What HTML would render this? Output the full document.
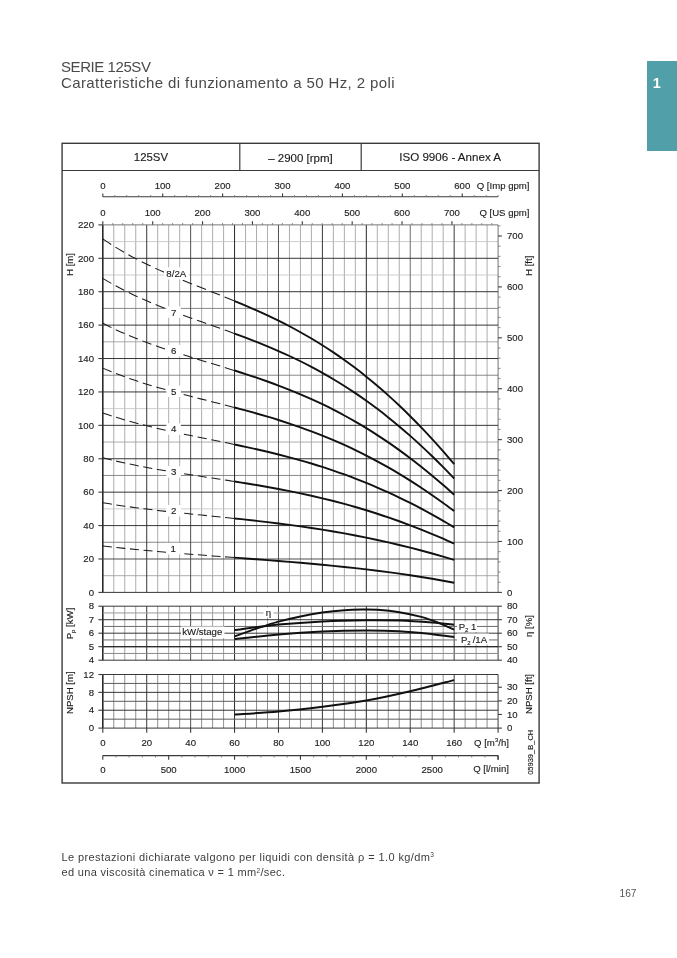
<!DOCTYPE html>
<html lang="it">
<head>
<meta charset="utf-8">
<title>SERIE 125SV</title>
<style>
html,body{margin:0;padding:0;background:#fff;}
body{width:677px;height:958px;position:relative;overflow:hidden;font-family:"Liberation Sans",sans-serif;}
.h1,.h2{position:absolute;left:61px;font-size:15px;line-height:16px;color:#4a4a4a;white-space:nowrap;}
.h1{letter-spacing:-0.43px;}
.h2{letter-spacing:0.39px;}
.h1{top:59px;}
.h2{top:75px;}
.tab{position:absolute;left:646.8px;top:60.9px;width:31px;height:89.7px;background:#519fa9;}
.tab span{position:absolute;left:6px;top:15.3px;font-size:14.5px;font-weight:bold;color:#fff;line-height:15px;}
.note{position:absolute;left:61.5px;font-size:11px;line-height:12px;color:#3d3d3d;white-space:nowrap;}
.n1{letter-spacing:0.4px;}
.n2{letter-spacing:0.33px;}
.n1{top:850.5px;}
.n2{top:866.2px;}
.note sup{font-size:6.5px;vertical-align:baseline;position:relative;top:-3.5px;}
.pg{position:absolute;left:619.5px;top:888.2px;font-size:10.2px;line-height:12px;color:#555;}
svg{position:absolute;left:0;top:0;font-family:"Liberation Sans",sans-serif;}
svg text{stroke:#1c1c1c;stroke-width:0.14px;}
</style>
</head>
<body>
<div class="h1">SERIE 125SV</div>
<div class="h2">Caratteristiche di funzionamento a 50 Hz, 2 poli</div>
<div class="tab"><span>1</span></div>
<svg width="677" height="958" viewBox="0 0 677 958">
<rect x="62.1" y="143.3" width="477" height="639.7" fill="#fff" stroke="#3a3a3a" stroke-width="1.4"/>
<line x1="62.1" y1="170.5" x2="539.1" y2="170.5" stroke="#3a3a3a" stroke-width="1.2"/>
<line x1="239.8" y1="143.3" x2="239.8" y2="170.3" stroke="#3a3a3a" stroke-width="1.2"/>
<line x1="361.2" y1="143.3" x2="361.2" y2="170.3" stroke="#3a3a3a" stroke-width="1.2"/>
<text x="150.95" y="160.9" font-size="11.4" text-anchor="middle" fill="#1c1c1c">125SV</text>
<text x="300.5" y="161.9" font-size="11.5" text-anchor="middle" fill="#1c1c1c">&#8211; 2900 [rpm]</text>
<text x="450.15" y="161" font-size="11.6" text-anchor="middle" fill="#1c1c1c">ISO 9906 - Annex A</text>
<line x1="102.8" y1="196.8" x2="498.08" y2="196.8" stroke="#3a3a3a" stroke-width="1.1"/>
<line x1="102.8" y1="196.8" x2="102.8" y2="193.4" stroke="#3a3a3a" stroke-width="1.1"/>
<text x="102.8" y="189.2" font-size="9.6" text-anchor="middle" fill="#1c1c1c">0</text>
<line x1="114.78" y1="196.8" x2="114.78" y2="195" stroke="#777" stroke-width="0.9"/>
<line x1="126.76" y1="196.8" x2="126.76" y2="195" stroke="#777" stroke-width="0.9"/>
<line x1="138.74" y1="196.8" x2="138.74" y2="195" stroke="#777" stroke-width="0.9"/>
<line x1="150.73" y1="196.8" x2="150.73" y2="195" stroke="#777" stroke-width="0.9"/>
<line x1="162.71" y1="196.8" x2="162.71" y2="193.4" stroke="#3a3a3a" stroke-width="1.1"/>
<text x="162.71" y="189.2" font-size="9.6" text-anchor="middle" fill="#1c1c1c">100</text>
<line x1="174.69" y1="196.8" x2="174.69" y2="195" stroke="#777" stroke-width="0.9"/>
<line x1="186.67" y1="196.8" x2="186.67" y2="195" stroke="#777" stroke-width="0.9"/>
<line x1="198.65" y1="196.8" x2="198.65" y2="195" stroke="#777" stroke-width="0.9"/>
<line x1="210.63" y1="196.8" x2="210.63" y2="195" stroke="#777" stroke-width="0.9"/>
<line x1="222.61" y1="196.8" x2="222.61" y2="193.4" stroke="#3a3a3a" stroke-width="1.1"/>
<text x="222.61" y="189.2" font-size="9.6" text-anchor="middle" fill="#1c1c1c">200</text>
<line x1="234.6" y1="196.8" x2="234.6" y2="195" stroke="#777" stroke-width="0.9"/>
<line x1="246.58" y1="196.8" x2="246.58" y2="195" stroke="#777" stroke-width="0.9"/>
<line x1="258.56" y1="196.8" x2="258.56" y2="195" stroke="#777" stroke-width="0.9"/>
<line x1="270.54" y1="196.8" x2="270.54" y2="195" stroke="#777" stroke-width="0.9"/>
<line x1="282.52" y1="196.8" x2="282.52" y2="193.4" stroke="#3a3a3a" stroke-width="1.1"/>
<text x="282.52" y="189.2" font-size="9.6" text-anchor="middle" fill="#1c1c1c">300</text>
<line x1="294.5" y1="196.8" x2="294.5" y2="195" stroke="#777" stroke-width="0.9"/>
<line x1="306.48" y1="196.8" x2="306.48" y2="195" stroke="#777" stroke-width="0.9"/>
<line x1="318.46" y1="196.8" x2="318.46" y2="195" stroke="#777" stroke-width="0.9"/>
<line x1="330.45" y1="196.8" x2="330.45" y2="195" stroke="#777" stroke-width="0.9"/>
<line x1="342.43" y1="196.8" x2="342.43" y2="193.4" stroke="#3a3a3a" stroke-width="1.1"/>
<text x="342.43" y="189.2" font-size="9.6" text-anchor="middle" fill="#1c1c1c">400</text>
<line x1="354.41" y1="196.8" x2="354.41" y2="195" stroke="#777" stroke-width="0.9"/>
<line x1="366.39" y1="196.8" x2="366.39" y2="195" stroke="#777" stroke-width="0.9"/>
<line x1="378.37" y1="196.8" x2="378.37" y2="195" stroke="#777" stroke-width="0.9"/>
<line x1="390.35" y1="196.8" x2="390.35" y2="195" stroke="#777" stroke-width="0.9"/>
<line x1="402.33" y1="196.8" x2="402.33" y2="193.4" stroke="#3a3a3a" stroke-width="1.1"/>
<text x="402.33" y="189.2" font-size="9.6" text-anchor="middle" fill="#1c1c1c">500</text>
<line x1="414.32" y1="196.8" x2="414.32" y2="195" stroke="#777" stroke-width="0.9"/>
<line x1="426.3" y1="196.8" x2="426.3" y2="195" stroke="#777" stroke-width="0.9"/>
<line x1="438.28" y1="196.8" x2="438.28" y2="195" stroke="#777" stroke-width="0.9"/>
<line x1="450.26" y1="196.8" x2="450.26" y2="195" stroke="#777" stroke-width="0.9"/>
<line x1="462.24" y1="196.8" x2="462.24" y2="193.4" stroke="#3a3a3a" stroke-width="1.1"/>
<text x="462.24" y="189.2" font-size="9.6" text-anchor="middle" fill="#1c1c1c">600</text>
<line x1="474.22" y1="196.8" x2="474.22" y2="195" stroke="#777" stroke-width="0.9"/>
<line x1="486.2" y1="196.8" x2="486.2" y2="195" stroke="#777" stroke-width="0.9"/>
<line x1="498.19" y1="196.8" x2="498.19" y2="195" stroke="#777" stroke-width="0.9"/>
<text x="529.5" y="188.6" font-size="9.6" text-anchor="end" fill="#1c1c1c">Q [Imp gpm]</text>
<line x1="102.8" y1="224.89" x2="102.8" y2="221.29" stroke="#3a3a3a" stroke-width="1.1"/>
<text x="102.8" y="216.4" font-size="9.6" text-anchor="middle" fill="#1c1c1c">0</text>
<line x1="112.78" y1="224.89" x2="112.78" y2="223.09" stroke="#777" stroke-width="0.9"/>
<line x1="122.75" y1="224.89" x2="122.75" y2="223.09" stroke="#777" stroke-width="0.9"/>
<line x1="132.73" y1="224.89" x2="132.73" y2="223.09" stroke="#777" stroke-width="0.9"/>
<line x1="142.7" y1="224.89" x2="142.7" y2="223.09" stroke="#777" stroke-width="0.9"/>
<line x1="152.68" y1="224.89" x2="152.68" y2="221.29" stroke="#3a3a3a" stroke-width="1.1"/>
<text x="152.68" y="216.4" font-size="9.6" text-anchor="middle" fill="#1c1c1c">100</text>
<line x1="162.65" y1="224.89" x2="162.65" y2="223.09" stroke="#777" stroke-width="0.9"/>
<line x1="172.63" y1="224.89" x2="172.63" y2="223.09" stroke="#777" stroke-width="0.9"/>
<line x1="182.6" y1="224.89" x2="182.6" y2="223.09" stroke="#777" stroke-width="0.9"/>
<line x1="192.58" y1="224.89" x2="192.58" y2="223.09" stroke="#777" stroke-width="0.9"/>
<line x1="202.55" y1="224.89" x2="202.55" y2="221.29" stroke="#3a3a3a" stroke-width="1.1"/>
<text x="202.55" y="216.4" font-size="9.6" text-anchor="middle" fill="#1c1c1c">200</text>
<line x1="212.53" y1="224.89" x2="212.53" y2="223.09" stroke="#777" stroke-width="0.9"/>
<line x1="222.5" y1="224.89" x2="222.5" y2="223.09" stroke="#777" stroke-width="0.9"/>
<line x1="232.48" y1="224.89" x2="232.48" y2="223.09" stroke="#777" stroke-width="0.9"/>
<line x1="242.45" y1="224.89" x2="242.45" y2="223.09" stroke="#777" stroke-width="0.9"/>
<line x1="252.43" y1="224.89" x2="252.43" y2="221.29" stroke="#3a3a3a" stroke-width="1.1"/>
<text x="252.43" y="216.4" font-size="9.6" text-anchor="middle" fill="#1c1c1c">300</text>
<line x1="262.4" y1="224.89" x2="262.4" y2="223.09" stroke="#777" stroke-width="0.9"/>
<line x1="272.38" y1="224.89" x2="272.38" y2="223.09" stroke="#777" stroke-width="0.9"/>
<line x1="282.35" y1="224.89" x2="282.35" y2="223.09" stroke="#777" stroke-width="0.9"/>
<line x1="292.33" y1="224.89" x2="292.33" y2="223.09" stroke="#777" stroke-width="0.9"/>
<line x1="302.3" y1="224.89" x2="302.3" y2="221.29" stroke="#3a3a3a" stroke-width="1.1"/>
<text x="302.3" y="216.4" font-size="9.6" text-anchor="middle" fill="#1c1c1c">400</text>
<line x1="312.28" y1="224.89" x2="312.28" y2="223.09" stroke="#777" stroke-width="0.9"/>
<line x1="322.25" y1="224.89" x2="322.25" y2="223.09" stroke="#777" stroke-width="0.9"/>
<line x1="332.23" y1="224.89" x2="332.23" y2="223.09" stroke="#777" stroke-width="0.9"/>
<line x1="342.2" y1="224.89" x2="342.2" y2="223.09" stroke="#777" stroke-width="0.9"/>
<line x1="352.18" y1="224.89" x2="352.18" y2="221.29" stroke="#3a3a3a" stroke-width="1.1"/>
<text x="352.18" y="216.4" font-size="9.6" text-anchor="middle" fill="#1c1c1c">500</text>
<line x1="362.15" y1="224.89" x2="362.15" y2="223.09" stroke="#777" stroke-width="0.9"/>
<line x1="372.13" y1="224.89" x2="372.13" y2="223.09" stroke="#777" stroke-width="0.9"/>
<line x1="382.1" y1="224.89" x2="382.1" y2="223.09" stroke="#777" stroke-width="0.9"/>
<line x1="392.08" y1="224.89" x2="392.08" y2="223.09" stroke="#777" stroke-width="0.9"/>
<line x1="402.05" y1="224.89" x2="402.05" y2="221.29" stroke="#3a3a3a" stroke-width="1.1"/>
<text x="402.05" y="216.4" font-size="9.6" text-anchor="middle" fill="#1c1c1c">600</text>
<line x1="412.03" y1="224.89" x2="412.03" y2="223.09" stroke="#777" stroke-width="0.9"/>
<line x1="422" y1="224.89" x2="422" y2="223.09" stroke="#777" stroke-width="0.9"/>
<line x1="431.98" y1="224.89" x2="431.98" y2="223.09" stroke="#777" stroke-width="0.9"/>
<line x1="441.95" y1="224.89" x2="441.95" y2="223.09" stroke="#777" stroke-width="0.9"/>
<line x1="451.93" y1="224.89" x2="451.93" y2="221.29" stroke="#3a3a3a" stroke-width="1.1"/>
<text x="451.93" y="216.4" font-size="9.6" text-anchor="middle" fill="#1c1c1c">700</text>
<line x1="461.9" y1="224.89" x2="461.9" y2="223.09" stroke="#777" stroke-width="0.9"/>
<line x1="471.88" y1="224.89" x2="471.88" y2="223.09" stroke="#777" stroke-width="0.9"/>
<line x1="481.85" y1="224.89" x2="481.85" y2="223.09" stroke="#777" stroke-width="0.9"/>
<line x1="491.83" y1="224.89" x2="491.83" y2="223.09" stroke="#777" stroke-width="0.9"/>
<text x="529.5" y="216" font-size="9.6" text-anchor="end" fill="#1c1c1c">Q [US gpm]</text>
<line x1="113.78" y1="224.89" x2="113.78" y2="592.4" stroke="#9e9e9e" stroke-width="0.85"/>
<line x1="124.76" y1="224.89" x2="124.76" y2="592.4" stroke="#9e9e9e" stroke-width="0.85"/>
<line x1="135.74" y1="224.89" x2="135.74" y2="592.4" stroke="#9e9e9e" stroke-width="0.85"/>
<line x1="157.7" y1="224.89" x2="157.7" y2="592.4" stroke="#9e9e9e" stroke-width="0.85"/>
<line x1="168.68" y1="224.89" x2="168.68" y2="592.4" stroke="#9e9e9e" stroke-width="0.85"/>
<line x1="179.66" y1="224.89" x2="179.66" y2="592.4" stroke="#9e9e9e" stroke-width="0.85"/>
<line x1="201.62" y1="224.89" x2="201.62" y2="592.4" stroke="#9e9e9e" stroke-width="0.85"/>
<line x1="212.6" y1="224.89" x2="212.6" y2="592.4" stroke="#9e9e9e" stroke-width="0.85"/>
<line x1="223.58" y1="224.89" x2="223.58" y2="592.4" stroke="#9e9e9e" stroke-width="0.85"/>
<line x1="245.54" y1="224.89" x2="245.54" y2="592.4" stroke="#9e9e9e" stroke-width="0.85"/>
<line x1="256.52" y1="224.89" x2="256.52" y2="592.4" stroke="#9e9e9e" stroke-width="0.85"/>
<line x1="267.5" y1="224.89" x2="267.5" y2="592.4" stroke="#9e9e9e" stroke-width="0.85"/>
<line x1="289.46" y1="224.89" x2="289.46" y2="592.4" stroke="#9e9e9e" stroke-width="0.85"/>
<line x1="300.44" y1="224.89" x2="300.44" y2="592.4" stroke="#9e9e9e" stroke-width="0.85"/>
<line x1="311.42" y1="224.89" x2="311.42" y2="592.4" stroke="#9e9e9e" stroke-width="0.85"/>
<line x1="333.38" y1="224.89" x2="333.38" y2="592.4" stroke="#9e9e9e" stroke-width="0.85"/>
<line x1="344.36" y1="224.89" x2="344.36" y2="592.4" stroke="#9e9e9e" stroke-width="0.85"/>
<line x1="355.34" y1="224.89" x2="355.34" y2="592.4" stroke="#9e9e9e" stroke-width="0.85"/>
<line x1="377.3" y1="224.89" x2="377.3" y2="592.4" stroke="#9e9e9e" stroke-width="0.85"/>
<line x1="388.28" y1="224.89" x2="388.28" y2="592.4" stroke="#9e9e9e" stroke-width="0.85"/>
<line x1="399.26" y1="224.89" x2="399.26" y2="592.4" stroke="#9e9e9e" stroke-width="0.85"/>
<line x1="421.22" y1="224.89" x2="421.22" y2="592.4" stroke="#9e9e9e" stroke-width="0.85"/>
<line x1="432.2" y1="224.89" x2="432.2" y2="592.4" stroke="#9e9e9e" stroke-width="0.85"/>
<line x1="443.18" y1="224.89" x2="443.18" y2="592.4" stroke="#9e9e9e" stroke-width="0.85"/>
<line x1="465.14" y1="224.89" x2="465.14" y2="592.4" stroke="#9e9e9e" stroke-width="0.85"/>
<line x1="476.12" y1="224.89" x2="476.12" y2="592.4" stroke="#9e9e9e" stroke-width="0.85"/>
<line x1="487.1" y1="224.89" x2="487.1" y2="592.4" stroke="#9e9e9e" stroke-width="0.85"/>
<line x1="102.8" y1="575.69" x2="498.08" y2="575.69" stroke="#9c9c9c" stroke-width="0.85"/>
<line x1="102.8" y1="542.28" x2="498.08" y2="542.28" stroke="#747474" stroke-width="0.85"/>
<line x1="102.8" y1="508.88" x2="498.08" y2="508.88" stroke="#c4c4c4" stroke-width="0.85"/>
<line x1="102.8" y1="475.46" x2="498.08" y2="475.46" stroke="#747474" stroke-width="0.85"/>
<line x1="102.8" y1="442.05" x2="498.08" y2="442.05" stroke="#9c9c9c" stroke-width="0.85"/>
<line x1="102.8" y1="408.64" x2="498.08" y2="408.64" stroke="#c4c4c4" stroke-width="0.85"/>
<line x1="102.8" y1="375.23" x2="498.08" y2="375.23" stroke="#747474" stroke-width="0.85"/>
<line x1="102.8" y1="341.82" x2="498.08" y2="341.82" stroke="#9c9c9c" stroke-width="0.85"/>
<line x1="102.8" y1="308.41" x2="498.08" y2="308.41" stroke="#747474" stroke-width="0.85"/>
<line x1="102.8" y1="275" x2="498.08" y2="275" stroke="#c4c4c4" stroke-width="0.85"/>
<line x1="102.8" y1="241.59" x2="498.08" y2="241.59" stroke="#c4c4c4" stroke-width="0.85"/>
<line x1="102.8" y1="224.89" x2="102.8" y2="592.4" stroke="#2a2a2a" stroke-width="1.6"/>
<line x1="146.72" y1="224.89" x2="146.72" y2="592.4" stroke="#2c2c2c" stroke-width="0.95"/>
<line x1="190.64" y1="224.89" x2="190.64" y2="592.4" stroke="#484848" stroke-width="0.95"/>
<line x1="234.56" y1="224.89" x2="234.56" y2="592.4" stroke="#1c1c1c" stroke-width="0.95"/>
<line x1="278.48" y1="224.89" x2="278.48" y2="592.4" stroke="#484848" stroke-width="0.95"/>
<line x1="322.4" y1="224.89" x2="322.4" y2="592.4" stroke="#2c2c2c" stroke-width="0.95"/>
<line x1="366.32" y1="224.89" x2="366.32" y2="592.4" stroke="#1c1c1c" stroke-width="0.95"/>
<line x1="410.24" y1="224.89" x2="410.24" y2="592.4" stroke="#646464" stroke-width="0.95"/>
<line x1="454.16" y1="224.89" x2="454.16" y2="592.4" stroke="#303030" stroke-width="0.95"/>
<line x1="498.08" y1="224.89" x2="498.08" y2="592.4" stroke="#6c6c6c" stroke-width="0.95"/>
<line x1="102.8" y1="592.4" x2="498.08" y2="592.4" stroke="#2c2c2c" stroke-width="0.95"/>
<line x1="102.8" y1="558.99" x2="498.08" y2="558.99" stroke="#444" stroke-width="0.95"/>
<line x1="102.8" y1="525.58" x2="498.08" y2="525.58" stroke="#2c2c2c" stroke-width="0.95"/>
<line x1="102.8" y1="492.17" x2="498.08" y2="492.17" stroke="#2c2c2c" stroke-width="0.95"/>
<line x1="102.8" y1="458.76" x2="498.08" y2="458.76" stroke="#2c2c2c" stroke-width="0.95"/>
<line x1="102.8" y1="425.35" x2="498.08" y2="425.35" stroke="#2c2c2c" stroke-width="0.95"/>
<line x1="102.8" y1="391.94" x2="498.08" y2="391.94" stroke="#2c2c2c" stroke-width="0.95"/>
<line x1="102.8" y1="358.53" x2="498.08" y2="358.53" stroke="#2c2c2c" stroke-width="0.95"/>
<line x1="102.8" y1="325.12" x2="498.08" y2="325.12" stroke="#2c2c2c" stroke-width="0.95"/>
<line x1="102.8" y1="291.71" x2="498.08" y2="291.71" stroke="#2c2c2c" stroke-width="0.95"/>
<line x1="102.8" y1="258.3" x2="498.08" y2="258.3" stroke="#2c2c2c" stroke-width="0.95"/>
<line x1="102.8" y1="224.89" x2="498.08" y2="224.89" stroke="#707070" stroke-width="0.95"/>
<line x1="98.4" y1="592.4" x2="102.8" y2="592.4" stroke="#3a3a3a" stroke-width="1.1"/>
<text x="94" y="595.6" font-size="9.6" text-anchor="end" fill="#1c1c1c">0</text>
<line x1="98.4" y1="558.99" x2="102.8" y2="558.99" stroke="#3a3a3a" stroke-width="1.1"/>
<text x="94" y="562.19" font-size="9.6" text-anchor="end" fill="#1c1c1c">20</text>
<line x1="98.4" y1="525.58" x2="102.8" y2="525.58" stroke="#3a3a3a" stroke-width="1.1"/>
<text x="94" y="528.78" font-size="9.6" text-anchor="end" fill="#1c1c1c">40</text>
<line x1="98.4" y1="492.17" x2="102.8" y2="492.17" stroke="#3a3a3a" stroke-width="1.1"/>
<text x="94" y="495.37" font-size="9.6" text-anchor="end" fill="#1c1c1c">60</text>
<line x1="98.4" y1="458.76" x2="102.8" y2="458.76" stroke="#3a3a3a" stroke-width="1.1"/>
<text x="94" y="461.96" font-size="9.6" text-anchor="end" fill="#1c1c1c">80</text>
<line x1="98.4" y1="425.35" x2="102.8" y2="425.35" stroke="#3a3a3a" stroke-width="1.1"/>
<text x="94" y="428.55" font-size="9.6" text-anchor="end" fill="#1c1c1c">100</text>
<line x1="98.4" y1="391.94" x2="102.8" y2="391.94" stroke="#3a3a3a" stroke-width="1.1"/>
<text x="94" y="395.14" font-size="9.6" text-anchor="end" fill="#1c1c1c">120</text>
<line x1="98.4" y1="358.53" x2="102.8" y2="358.53" stroke="#3a3a3a" stroke-width="1.1"/>
<text x="94" y="361.73" font-size="9.6" text-anchor="end" fill="#1c1c1c">140</text>
<line x1="98.4" y1="325.12" x2="102.8" y2="325.12" stroke="#3a3a3a" stroke-width="1.1"/>
<text x="94" y="328.32" font-size="9.6" text-anchor="end" fill="#1c1c1c">160</text>
<line x1="98.4" y1="291.71" x2="102.8" y2="291.71" stroke="#3a3a3a" stroke-width="1.1"/>
<text x="94" y="294.91" font-size="9.6" text-anchor="end" fill="#1c1c1c">180</text>
<line x1="98.4" y1="258.3" x2="102.8" y2="258.3" stroke="#3a3a3a" stroke-width="1.1"/>
<text x="94" y="261.5" font-size="9.6" text-anchor="end" fill="#1c1c1c">200</text>
<line x1="98.4" y1="224.89" x2="102.8" y2="224.89" stroke="#3a3a3a" stroke-width="1.1"/>
<text x="94" y="228.09" font-size="9.6" text-anchor="end" fill="#1c1c1c">220</text>
<text transform="translate(72.6 264.5) rotate(-90)" font-size="9.6" text-anchor="middle" fill="#1c1c1c">H [m]</text>
<line x1="498.08" y1="592.4" x2="501.88" y2="592.4" stroke="#3a3a3a" stroke-width="1.1"/>
<text x="507" y="595.6" font-size="9.6" text-anchor="start" fill="#1c1c1c">0</text>
<line x1="498.08" y1="582.22" x2="500.48" y2="582.22" stroke="#777" stroke-width="0.9"/>
<line x1="498.08" y1="572.03" x2="500.48" y2="572.03" stroke="#777" stroke-width="0.9"/>
<line x1="498.08" y1="561.85" x2="500.48" y2="561.85" stroke="#777" stroke-width="0.9"/>
<line x1="498.08" y1="551.67" x2="500.48" y2="551.67" stroke="#777" stroke-width="0.9"/>
<line x1="498.08" y1="541.48" x2="501.88" y2="541.48" stroke="#3a3a3a" stroke-width="1.1"/>
<text x="507" y="544.68" font-size="9.6" text-anchor="start" fill="#1c1c1c">100</text>
<line x1="498.08" y1="531.3" x2="500.48" y2="531.3" stroke="#777" stroke-width="0.9"/>
<line x1="498.08" y1="521.12" x2="500.48" y2="521.12" stroke="#777" stroke-width="0.9"/>
<line x1="498.08" y1="510.93" x2="500.48" y2="510.93" stroke="#777" stroke-width="0.9"/>
<line x1="498.08" y1="500.75" x2="500.48" y2="500.75" stroke="#777" stroke-width="0.9"/>
<line x1="498.08" y1="490.57" x2="501.88" y2="490.57" stroke="#3a3a3a" stroke-width="1.1"/>
<text x="507" y="493.77" font-size="9.6" text-anchor="start" fill="#1c1c1c">200</text>
<line x1="498.08" y1="480.38" x2="500.48" y2="480.38" stroke="#777" stroke-width="0.9"/>
<line x1="498.08" y1="470.2" x2="500.48" y2="470.2" stroke="#777" stroke-width="0.9"/>
<line x1="498.08" y1="460.02" x2="500.48" y2="460.02" stroke="#777" stroke-width="0.9"/>
<line x1="498.08" y1="449.83" x2="500.48" y2="449.83" stroke="#777" stroke-width="0.9"/>
<line x1="498.08" y1="439.65" x2="501.88" y2="439.65" stroke="#3a3a3a" stroke-width="1.1"/>
<text x="507" y="442.85" font-size="9.6" text-anchor="start" fill="#1c1c1c">300</text>
<line x1="498.08" y1="429.47" x2="500.48" y2="429.47" stroke="#777" stroke-width="0.9"/>
<line x1="498.08" y1="419.28" x2="500.48" y2="419.28" stroke="#777" stroke-width="0.9"/>
<line x1="498.08" y1="409.1" x2="500.48" y2="409.1" stroke="#777" stroke-width="0.9"/>
<line x1="498.08" y1="398.92" x2="500.48" y2="398.92" stroke="#777" stroke-width="0.9"/>
<line x1="498.08" y1="388.73" x2="501.88" y2="388.73" stroke="#3a3a3a" stroke-width="1.1"/>
<text x="507" y="391.93" font-size="9.6" text-anchor="start" fill="#1c1c1c">400</text>
<line x1="498.08" y1="378.55" x2="500.48" y2="378.55" stroke="#777" stroke-width="0.9"/>
<line x1="498.08" y1="368.37" x2="500.48" y2="368.37" stroke="#777" stroke-width="0.9"/>
<line x1="498.08" y1="358.18" x2="500.48" y2="358.18" stroke="#777" stroke-width="0.9"/>
<line x1="498.08" y1="348" x2="500.48" y2="348" stroke="#777" stroke-width="0.9"/>
<line x1="498.08" y1="337.82" x2="501.88" y2="337.82" stroke="#3a3a3a" stroke-width="1.1"/>
<text x="507" y="341.02" font-size="9.6" text-anchor="start" fill="#1c1c1c">500</text>
<line x1="498.08" y1="327.63" x2="500.48" y2="327.63" stroke="#777" stroke-width="0.9"/>
<line x1="498.08" y1="317.45" x2="500.48" y2="317.45" stroke="#777" stroke-width="0.9"/>
<line x1="498.08" y1="307.27" x2="500.48" y2="307.27" stroke="#777" stroke-width="0.9"/>
<line x1="498.08" y1="297.08" x2="500.48" y2="297.08" stroke="#777" stroke-width="0.9"/>
<line x1="498.08" y1="286.9" x2="501.88" y2="286.9" stroke="#3a3a3a" stroke-width="1.1"/>
<text x="507" y="290.1" font-size="9.6" text-anchor="start" fill="#1c1c1c">600</text>
<line x1="498.08" y1="276.72" x2="500.48" y2="276.72" stroke="#777" stroke-width="0.9"/>
<line x1="498.08" y1="266.53" x2="500.48" y2="266.53" stroke="#777" stroke-width="0.9"/>
<line x1="498.08" y1="256.35" x2="500.48" y2="256.35" stroke="#777" stroke-width="0.9"/>
<line x1="498.08" y1="246.17" x2="500.48" y2="246.17" stroke="#777" stroke-width="0.9"/>
<line x1="498.08" y1="235.98" x2="501.88" y2="235.98" stroke="#3a3a3a" stroke-width="1.1"/>
<text x="507" y="239.18" font-size="9.6" text-anchor="start" fill="#1c1c1c">700</text>
<line x1="498.08" y1="225.8" x2="500.48" y2="225.8" stroke="#777" stroke-width="0.9"/>
<text transform="translate(531.6 265.8) rotate(-90)" font-size="9.6" text-anchor="middle" fill="#1c1c1c">H [ft]</text>
<path d="M102.8 238.95C104.63 240.14 110.12 243.82 113.78 246.1C117.44 248.38 121.1 250.54 124.76 252.63C128.42 254.72 132.08 256.7 135.74 258.63C139.4 260.56 143.06 262.39 146.72 264.18C150.38 265.97 154.04 267.68 157.7 269.36C161.36 271.04 165.02 272.65 168.68 274.24C172.34 275.83 176 277.37 179.66 278.89C183.32 280.42 186.98 281.9 190.64 283.39C194.3 284.87 197.96 286.32 201.62 287.79C205.28 289.25 208.94 290.69 212.6 292.15C216.26 293.61 219.92 295.06 223.58 296.54C227.24 298.02 232.73 300.27 234.56 301.01" fill="none" stroke="#1c1c1c" stroke-width="1.05" stroke-dasharray="9.95 5.08"/>
<path d="M234.56 301.01C236.39 301.78 241.88 304.05 245.54 305.62C249.2 307.18 252.86 308.77 256.52 310.4C260.18 312.03 263.84 313.7 267.5 315.41C271.16 317.13 274.82 318.88 278.48 320.69C282.14 322.5 285.8 324.36 289.46 326.28C293.12 328.2 296.78 330.18 300.44 332.22C304.1 334.26 307.76 336.36 311.42 338.53C315.08 340.7 318.74 342.94 322.4 345.25C326.06 347.56 329.72 349.94 333.38 352.4C337.04 354.86 340.7 357.4 344.36 360.02C348.02 362.63 351.68 365.33 355.34 368.1C359 370.88 362.66 373.74 366.32 376.69C369.98 379.64 373.64 382.66 377.3 385.78C380.96 388.9 384.62 392.1 388.28 395.39C391.94 398.69 395.6 402.07 399.26 405.53C402.92 409 406.58 412.56 410.24 416.21C413.9 419.85 417.56 423.59 421.22 427.41C424.88 431.23 428.54 435.15 432.2 439.14C435.86 443.14 439.52 447.23 443.18 451.4C446.84 455.58 452.33 462.05 454.16 464.18" fill="none" stroke="#111" stroke-width="1.9"/>
<rect x="164.05" y="267.4" width="24.5" height="12" fill="#fff"/>
<text x="176.3" y="276.8" font-size="9.7" text-anchor="middle" fill="#1c1c1c">8/2A</text>
<path d="M102.8 278.42C104.63 279.48 110.12 282.74 113.78 284.77C117.44 286.79 121.1 288.72 124.76 290.57C128.42 292.43 132.08 294.19 135.74 295.9C139.4 297.61 143.06 299.25 146.72 300.84C150.38 302.42 154.04 303.95 157.7 305.44C161.36 306.92 165.02 308.36 168.68 309.77C172.34 311.18 176 312.55 179.66 313.9C183.32 315.26 186.98 316.58 190.64 317.9C194.3 319.21 197.96 320.51 201.62 321.8C205.28 323.1 208.94 324.38 212.6 325.68C216.26 326.98 219.92 328.27 223.58 329.58C227.24 330.89 232.73 332.89 234.56 333.55" fill="none" stroke="#1c1c1c" stroke-width="1.05" stroke-dasharray="9.76 4.99"/>
<path d="M234.56 333.55C236.39 334.23 241.88 336.25 245.54 337.64C249.2 339.03 252.86 340.44 256.52 341.89C260.18 343.34 263.84 344.82 267.5 346.34C271.16 347.87 274.82 349.43 278.48 351.04C282.14 352.65 285.8 354.3 289.46 356C293.12 357.71 296.78 359.46 300.44 361.27C304.1 363.09 307.76 364.95 311.42 366.88C315.08 368.81 318.74 370.8 322.4 372.85C326.06 374.9 329.72 377.02 333.38 379.21C337.04 381.39 340.7 383.64 344.36 385.97C348.02 388.29 351.68 390.68 355.34 393.15C359 395.62 362.66 398.16 366.32 400.78C369.98 403.4 373.64 406.09 377.3 408.86C380.96 411.63 384.62 414.47 388.28 417.4C391.94 420.32 395.6 423.32 399.26 426.4C402.92 429.48 406.58 432.64 410.24 435.88C413.9 439.12 417.56 442.44 421.22 445.84C424.88 449.23 428.54 452.71 432.2 456.26C435.86 459.81 439.52 463.44 443.18 467.15C446.84 470.86 452.33 476.61 454.16 478.5" fill="none" stroke="#111" stroke-width="1.9"/>
<rect x="166.35" y="306.35" width="14.5" height="11.5" fill="#fff"/>
<text x="173.6" y="315.5" font-size="9.7" text-anchor="middle" fill="#1c1c1c">7</text>
<path d="M102.8 323.27C104.63 324.18 110.12 326.98 113.78 328.72C117.44 330.45 121.1 332.1 124.76 333.69C128.42 335.28 132.08 336.79 135.74 338.26C139.4 339.73 143.06 341.13 146.72 342.49C150.38 343.85 154.04 345.15 157.7 346.43C161.36 347.71 165.02 348.94 168.68 350.15C172.34 351.36 176 352.53 179.66 353.69C183.32 354.85 186.98 355.98 190.64 357.11C194.3 358.24 197.96 359.35 201.62 360.46C205.28 361.57 208.94 362.67 212.6 363.78C216.26 364.89 219.92 366 223.58 367.13C227.24 368.25 232.73 369.96 234.56 370.53" fill="none" stroke="#1c1c1c" stroke-width="1.05" stroke-dasharray="9.56 4.89"/>
<path d="M234.56 370.53C236.39 371.12 241.88 372.84 245.54 374.04C249.2 375.23 252.86 376.44 256.52 377.68C260.18 378.92 263.84 380.19 267.5 381.5C271.16 382.8 274.82 384.14 278.48 385.52C282.14 386.9 285.8 388.31 289.46 389.77C293.12 391.24 296.78 392.74 300.44 394.29C304.1 395.85 307.76 397.44 311.42 399.1C315.08 400.75 318.74 402.45 322.4 404.21C326.06 405.97 329.72 407.79 333.38 409.66C337.04 411.54 340.7 413.46 344.36 415.46C348.02 417.45 351.68 419.5 355.34 421.62C359 423.73 362.66 425.91 366.32 428.15C369.98 430.4 373.64 432.7 377.3 435.08C380.96 437.45 384.62 439.89 388.28 442.4C391.94 444.9 395.6 447.48 399.26 450.12C402.92 452.76 406.58 455.47 410.24 458.24C413.9 461.02 417.56 463.86 421.22 466.77C424.88 469.68 428.54 472.66 432.2 475.71C435.86 478.75 439.52 481.87 443.18 485.04C446.84 488.22 452.33 493.15 454.16 494.77" fill="none" stroke="#111" stroke-width="1.9"/>
<rect x="166.35" y="344.85" width="14.5" height="11.5" fill="#fff"/>
<text x="173.6" y="354" font-size="9.7" text-anchor="middle" fill="#1c1c1c">6</text>
<path d="M102.8 368.13C104.63 368.88 110.12 371.22 113.78 372.66C117.44 374.11 121.1 375.48 124.76 376.81C128.42 378.13 132.08 379.4 135.74 380.62C139.4 381.84 143.06 383 146.72 384.14C150.38 385.27 154.04 386.36 157.7 387.43C161.36 388.49 165.02 389.51 168.68 390.52C172.34 391.53 176 392.51 179.66 393.47C183.32 394.44 186.98 395.39 190.64 396.33C194.3 397.27 197.96 398.19 201.62 399.12C205.28 400.04 208.94 400.96 212.6 401.89C216.26 402.81 219.92 403.74 223.58 404.67C227.24 405.61 232.73 407.04 234.56 407.51" fill="none" stroke="#1c1c1c" stroke-width="1.05" stroke-dasharray="9.39 4.8"/>
<path d="M234.56 407.51C236.39 408 241.88 409.44 245.54 410.43C249.2 411.42 252.86 412.43 256.52 413.47C260.18 414.5 263.84 415.56 267.5 416.65C271.16 417.73 274.82 418.85 278.48 420C282.14 421.15 285.8 422.33 289.46 423.54C293.12 424.76 296.78 426.01 300.44 427.31C304.1 428.6 307.76 429.94 311.42 431.31C315.08 432.69 318.74 434.11 322.4 435.58C326.06 437.05 329.72 438.56 333.38 440.12C337.04 441.68 340.7 443.29 344.36 444.95C348.02 446.61 351.68 448.32 355.34 450.08C359 451.84 362.66 453.66 366.32 455.53C369.98 457.4 373.64 459.32 377.3 461.3C380.96 463.28 384.62 465.31 388.28 467.4C391.94 469.49 395.6 471.63 399.26 473.83C402.92 476.03 406.58 478.29 410.24 480.6C413.9 482.92 417.56 485.28 421.22 487.71C424.88 490.14 428.54 492.62 432.2 495.16C435.86 497.69 439.52 500.29 443.18 502.94C446.84 505.58 452.33 509.69 454.16 511.04" fill="none" stroke="#111" stroke-width="1.9"/>
<rect x="166.35" y="385.55" width="14.5" height="11.5" fill="#fff"/>
<text x="173.6" y="394.7" font-size="9.7" text-anchor="middle" fill="#1c1c1c">5</text>
<path d="M102.8 412.98C104.63 413.59 110.12 415.45 113.78 416.61C117.44 417.77 121.1 418.87 124.76 419.93C128.42 420.99 132.08 422 135.74 422.97C139.4 423.95 143.06 424.88 146.72 425.79C150.38 426.7 154.04 427.57 157.7 428.42C161.36 429.27 165.02 430.09 168.68 430.9C172.34 431.7 176 432.49 179.66 433.26C183.32 434.03 186.98 434.79 190.64 435.54C194.3 436.29 197.96 437.03 201.62 437.77C205.28 438.51 208.94 439.25 212.6 439.99C216.26 440.73 219.92 441.47 223.58 442.22C227.24 442.97 232.73 444.11 234.56 444.49" fill="none" stroke="#1c1c1c" stroke-width="1.05" stroke-dasharray="9.25 4.73"/>
<path d="M234.56 444.49C236.39 444.88 241.88 446.03 245.54 446.82C249.2 447.62 252.86 448.42 256.52 449.25C260.18 450.08 263.84 450.93 267.5 451.8C271.16 452.67 274.82 453.56 278.48 454.48C282.14 455.4 285.8 456.34 289.46 457.32C293.12 458.29 296.78 459.29 300.44 460.33C304.1 461.36 307.76 462.43 311.42 463.53C315.08 464.63 318.74 465.77 322.4 466.94C326.06 468.12 329.72 469.33 333.38 470.57C337.04 471.82 340.7 473.11 344.36 474.44C348.02 475.77 351.68 477.13 355.34 478.54C359 479.96 362.66 481.41 366.32 482.9C369.98 484.4 373.64 485.94 377.3 487.52C380.96 489.1 384.62 490.73 388.28 492.4C391.94 494.07 395.6 495.78 399.26 497.54C402.92 499.31 406.58 501.11 410.24 502.96C413.9 504.81 417.56 506.71 421.22 508.65C424.88 510.59 428.54 512.58 432.2 514.61C435.86 516.64 439.52 518.71 443.18 520.83C446.84 522.95 452.33 526.23 454.16 527.31" fill="none" stroke="#111" stroke-width="1.9"/>
<rect x="166.35" y="423.25" width="14.5" height="11.5" fill="#fff"/>
<text x="173.6" y="432.4" font-size="9.7" text-anchor="middle" fill="#1c1c1c">4</text>
<path d="M102.8 457.84C104.63 458.29 110.12 459.69 113.78 460.56C117.44 461.43 121.1 462.25 124.76 463.05C128.42 463.84 132.08 464.6 135.74 465.33C139.4 466.06 143.06 466.76 146.72 467.44C150.38 468.12 154.04 468.78 157.7 469.42C161.36 470.05 165.02 470.67 168.68 471.27C172.34 471.88 176 472.46 179.66 473.04C183.32 473.62 186.98 474.19 190.64 474.76C194.3 475.32 197.96 475.87 201.62 476.43C205.28 476.99 208.94 477.54 212.6 478.09C216.26 478.65 219.92 479.2 223.58 479.76C227.24 480.33 232.73 481.18 234.56 481.47" fill="none" stroke="#1c1c1c" stroke-width="1.05" stroke-dasharray="9.14 4.67"/>
<path d="M234.56 481.47C236.39 481.76 241.88 482.62 245.54 483.22C249.2 483.81 252.86 484.42 256.52 485.04C260.18 485.66 263.84 486.29 267.5 486.95C271.16 487.6 274.82 488.27 278.48 488.96C282.14 489.65 285.8 490.36 289.46 491.09C293.12 491.82 296.78 492.57 300.44 493.35C304.1 494.12 307.76 494.92 311.42 495.75C315.08 496.58 318.74 497.43 322.4 498.31C326.06 499.19 329.72 500.09 333.38 501.03C337.04 501.97 340.7 502.93 344.36 503.93C348.02 504.92 351.68 505.95 355.34 507.01C359 508.07 362.66 509.15 366.32 510.28C369.98 511.4 373.64 512.55 377.3 513.74C380.96 514.93 384.62 516.14 388.28 517.4C391.94 518.65 395.6 519.94 399.26 521.26C402.92 522.58 406.58 523.93 410.24 525.32C413.9 526.71 417.56 528.13 421.22 529.59C424.88 531.04 428.54 532.53 432.2 534.05C435.86 535.58 439.52 537.13 443.18 538.72C446.84 540.31 452.33 542.78 454.16 543.59" fill="none" stroke="#111" stroke-width="1.9"/>
<rect x="166.35" y="466.05" width="14.5" height="11.5" fill="#fff"/>
<text x="173.6" y="475.2" font-size="9.7" text-anchor="middle" fill="#1c1c1c">3</text>
<path d="M102.8 502.69C104.63 502.99 110.12 503.93 113.78 504.51C117.44 505.08 121.1 505.63 124.76 506.16C128.42 506.69 132.08 507.2 135.74 507.69C139.4 508.18 143.06 508.64 146.72 509.1C150.38 509.55 154.04 509.98 157.7 510.41C161.36 510.84 165.02 511.25 168.68 511.65C172.34 512.05 176 512.44 179.66 512.83C183.32 513.22 186.98 513.59 190.64 513.97C194.3 514.35 197.96 514.72 201.62 515.09C205.28 515.46 208.94 515.82 212.6 516.19C216.26 516.56 219.92 516.93 223.58 517.31C227.24 517.68 232.73 518.25 234.56 518.44" fill="none" stroke="#1c1c1c" stroke-width="1.05" stroke-dasharray="9.06 4.63"/>
<path d="M234.56 518.44C236.39 518.64 241.88 519.21 245.54 519.61C249.2 520.01 252.86 520.41 256.52 520.83C260.18 521.24 263.84 521.66 267.5 522.1C271.16 522.53 274.82 522.98 278.48 523.44C282.14 523.9 285.8 524.37 289.46 524.86C293.12 525.35 296.78 525.85 300.44 526.36C304.1 526.88 307.76 527.41 311.42 527.97C315.08 528.52 318.74 529.08 322.4 529.67C326.06 530.26 329.72 530.86 333.38 531.49C337.04 532.11 340.7 532.75 344.36 533.42C348.02 534.08 351.68 534.77 355.34 535.47C359 536.18 362.66 536.9 366.32 537.65C369.98 538.4 373.64 539.17 377.3 539.96C380.96 540.75 384.62 541.56 388.28 542.4C391.94 543.23 395.6 544.09 399.26 544.97C402.92 545.85 406.58 546.76 410.24 547.68C413.9 548.61 417.56 549.55 421.22 550.52C424.88 551.49 428.54 552.49 432.2 553.5C435.86 554.52 439.52 555.56 443.18 556.61C446.84 557.67 452.33 559.32 454.16 559.86" fill="none" stroke="#111" stroke-width="1.9"/>
<rect x="166.35" y="505.05" width="14.5" height="11.5" fill="#fff"/>
<text x="173.6" y="514.2" font-size="9.7" text-anchor="middle" fill="#1c1c1c">2</text>
<path d="M102.8 545.98C104.63 546.19 110.12 546.81 113.78 547.21C117.44 547.61 121.1 547.99 124.76 548.37C128.42 548.74 132.08 549.11 135.74 549.46C139.4 549.82 143.06 550.17 146.72 550.51C150.38 550.84 154.04 551.17 157.7 551.5C161.36 551.82 165.02 552.14 168.68 552.45C172.34 552.76 176 553.06 179.66 553.36C183.32 553.66 186.98 553.95 190.64 554.24C194.3 554.53 197.96 554.82 201.62 555.1C205.28 555.39 208.94 555.67 212.6 555.94C216.26 556.22 219.92 556.5 223.58 556.78C227.24 557.05 232.73 557.46 234.56 557.6" fill="none" stroke="#1c1c1c" stroke-width="1.05" stroke-dasharray="9.03 4.62"/>
<path d="M234.56 557.6C236.39 557.74 241.88 558.15 245.54 558.43C249.2 558.7 252.86 558.98 256.52 559.26C260.18 559.54 263.84 559.82 267.5 560.11C271.16 560.4 274.82 560.69 278.48 560.98C282.14 561.27 285.8 561.57 289.46 561.87C293.12 562.18 296.78 562.49 300.44 562.8C304.1 563.12 307.76 563.44 311.42 563.77C315.08 564.1 318.74 564.44 322.4 564.78C326.06 565.13 329.72 565.48 333.38 565.85C337.04 566.21 340.7 566.58 344.36 566.97C348.02 567.35 351.68 567.75 355.34 568.15C359 568.56 362.66 568.98 366.32 569.41C369.98 569.84 373.64 570.29 377.3 570.75C380.96 571.2 384.62 571.68 388.28 572.16C391.94 572.65 395.6 573.15 399.26 573.67C402.92 574.19 406.58 574.72 410.24 575.27C413.9 575.82 417.56 576.39 421.22 576.98C424.88 577.56 428.54 578.16 432.2 578.79C435.86 579.41 439.52 580.05 443.18 580.72C446.84 581.38 452.33 582.42 454.16 582.76" fill="none" stroke="#111" stroke-width="1.9"/>
<rect x="166.05" y="542.85" width="14.5" height="11.5" fill="#fff"/>
<text x="173.3" y="552" font-size="9.7" text-anchor="middle" fill="#1c1c1c">1</text>
<line x1="113.78" y1="606.2" x2="113.78" y2="660.2" stroke="#909090" stroke-width="0.85"/>
<line x1="124.76" y1="606.2" x2="124.76" y2="660.2" stroke="#909090" stroke-width="0.85"/>
<line x1="135.74" y1="606.2" x2="135.74" y2="660.2" stroke="#909090" stroke-width="0.85"/>
<line x1="157.7" y1="606.2" x2="157.7" y2="660.2" stroke="#909090" stroke-width="0.85"/>
<line x1="168.68" y1="606.2" x2="168.68" y2="660.2" stroke="#909090" stroke-width="0.85"/>
<line x1="179.66" y1="606.2" x2="179.66" y2="660.2" stroke="#909090" stroke-width="0.85"/>
<line x1="201.62" y1="606.2" x2="201.62" y2="660.2" stroke="#909090" stroke-width="0.85"/>
<line x1="212.6" y1="606.2" x2="212.6" y2="660.2" stroke="#909090" stroke-width="0.85"/>
<line x1="223.58" y1="606.2" x2="223.58" y2="660.2" stroke="#909090" stroke-width="0.85"/>
<line x1="245.54" y1="606.2" x2="245.54" y2="660.2" stroke="#909090" stroke-width="0.85"/>
<line x1="256.52" y1="606.2" x2="256.52" y2="660.2" stroke="#909090" stroke-width="0.85"/>
<line x1="267.5" y1="606.2" x2="267.5" y2="660.2" stroke="#909090" stroke-width="0.85"/>
<line x1="289.46" y1="606.2" x2="289.46" y2="660.2" stroke="#909090" stroke-width="0.85"/>
<line x1="300.44" y1="606.2" x2="300.44" y2="660.2" stroke="#909090" stroke-width="0.85"/>
<line x1="311.42" y1="606.2" x2="311.42" y2="660.2" stroke="#909090" stroke-width="0.85"/>
<line x1="333.38" y1="606.2" x2="333.38" y2="660.2" stroke="#909090" stroke-width="0.85"/>
<line x1="344.36" y1="606.2" x2="344.36" y2="660.2" stroke="#909090" stroke-width="0.85"/>
<line x1="355.34" y1="606.2" x2="355.34" y2="660.2" stroke="#909090" stroke-width="0.85"/>
<line x1="377.3" y1="606.2" x2="377.3" y2="660.2" stroke="#909090" stroke-width="0.85"/>
<line x1="388.28" y1="606.2" x2="388.28" y2="660.2" stroke="#909090" stroke-width="0.85"/>
<line x1="399.26" y1="606.2" x2="399.26" y2="660.2" stroke="#909090" stroke-width="0.85"/>
<line x1="421.22" y1="606.2" x2="421.22" y2="660.2" stroke="#909090" stroke-width="0.85"/>
<line x1="432.2" y1="606.2" x2="432.2" y2="660.2" stroke="#909090" stroke-width="0.85"/>
<line x1="443.18" y1="606.2" x2="443.18" y2="660.2" stroke="#909090" stroke-width="0.85"/>
<line x1="465.14" y1="606.2" x2="465.14" y2="660.2" stroke="#909090" stroke-width="0.85"/>
<line x1="476.12" y1="606.2" x2="476.12" y2="660.2" stroke="#909090" stroke-width="0.85"/>
<line x1="487.1" y1="606.2" x2="487.1" y2="660.2" stroke="#909090" stroke-width="0.85"/>
<line x1="102.8" y1="606.2" x2="102.8" y2="660.2" stroke="#2a2a2a" stroke-width="1.6"/>
<line x1="146.72" y1="606.2" x2="146.72" y2="660.2" stroke="#2c2c2c" stroke-width="0.95"/>
<line x1="190.64" y1="606.2" x2="190.64" y2="660.2" stroke="#484848" stroke-width="0.95"/>
<line x1="234.56" y1="606.2" x2="234.56" y2="660.2" stroke="#1c1c1c" stroke-width="0.95"/>
<line x1="278.48" y1="606.2" x2="278.48" y2="660.2" stroke="#484848" stroke-width="0.95"/>
<line x1="322.4" y1="606.2" x2="322.4" y2="660.2" stroke="#2c2c2c" stroke-width="0.95"/>
<line x1="366.32" y1="606.2" x2="366.32" y2="660.2" stroke="#1c1c1c" stroke-width="0.95"/>
<line x1="410.24" y1="606.2" x2="410.24" y2="660.2" stroke="#444" stroke-width="0.95"/>
<line x1="454.16" y1="606.2" x2="454.16" y2="660.2" stroke="#303030" stroke-width="0.95"/>
<line x1="498.08" y1="606.2" x2="498.08" y2="660.2" stroke="#333" stroke-width="0.95"/>
<line x1="102.8" y1="606.2" x2="498.08" y2="606.2" stroke="#2c2c2c" stroke-width="0.95"/>
<line x1="102.8" y1="619.7" x2="498.08" y2="619.7" stroke="#2c2c2c" stroke-width="0.95"/>
<line x1="102.8" y1="633.2" x2="498.08" y2="633.2" stroke="#2c2c2c" stroke-width="0.95"/>
<line x1="102.8" y1="646.7" x2="498.08" y2="646.7" stroke="#2c2c2c" stroke-width="0.95"/>
<line x1="102.8" y1="660.2" x2="498.08" y2="660.2" stroke="#2c2c2c" stroke-width="0.95"/>
<line x1="102.8" y1="612.95" x2="498.08" y2="612.95" stroke="#9a9a9a" stroke-width="1"/>
<line x1="102.8" y1="626.45" x2="498.08" y2="626.45" stroke="#6c6c6c" stroke-width="1"/>
<line x1="102.8" y1="639.95" x2="498.08" y2="639.95" stroke="#6c6c6c" stroke-width="1"/>
<line x1="102.8" y1="653.45" x2="498.08" y2="653.45" stroke="#8a8a8a" stroke-width="1"/>
<line x1="102.8" y1="646.7" x2="498.08" y2="646.7" stroke="#2c2c2c" stroke-width="1.3"/>
<line x1="98.4" y1="606.2" x2="102.8" y2="606.2" stroke="#3a3a3a" stroke-width="1.1"/>
<text x="94" y="609.4" font-size="9.6" text-anchor="end" fill="#1c1c1c">8</text>
<line x1="498.08" y1="606.2" x2="501.88" y2="606.2" stroke="#3a3a3a" stroke-width="1.1"/>
<text x="507" y="609.4" font-size="9.6" text-anchor="start" fill="#1c1c1c">80</text>
<line x1="98.4" y1="619.7" x2="102.8" y2="619.7" stroke="#3a3a3a" stroke-width="1.1"/>
<text x="94" y="622.9" font-size="9.6" text-anchor="end" fill="#1c1c1c">7</text>
<line x1="498.08" y1="619.7" x2="501.88" y2="619.7" stroke="#3a3a3a" stroke-width="1.1"/>
<text x="507" y="622.9" font-size="9.6" text-anchor="start" fill="#1c1c1c">70</text>
<line x1="98.4" y1="633.2" x2="102.8" y2="633.2" stroke="#3a3a3a" stroke-width="1.1"/>
<text x="94" y="636.4" font-size="9.6" text-anchor="end" fill="#1c1c1c">6</text>
<line x1="498.08" y1="633.2" x2="501.88" y2="633.2" stroke="#3a3a3a" stroke-width="1.1"/>
<text x="507" y="636.4" font-size="9.6" text-anchor="start" fill="#1c1c1c">60</text>
<line x1="98.4" y1="646.7" x2="102.8" y2="646.7" stroke="#3a3a3a" stroke-width="1.1"/>
<text x="94" y="649.9" font-size="9.6" text-anchor="end" fill="#1c1c1c">5</text>
<line x1="498.08" y1="646.7" x2="501.88" y2="646.7" stroke="#3a3a3a" stroke-width="1.1"/>
<text x="507" y="649.9" font-size="9.6" text-anchor="start" fill="#1c1c1c">50</text>
<line x1="98.4" y1="660.2" x2="102.8" y2="660.2" stroke="#3a3a3a" stroke-width="1.1"/>
<text x="94" y="663.4" font-size="9.6" text-anchor="end" fill="#1c1c1c">4</text>
<line x1="498.08" y1="660.2" x2="501.88" y2="660.2" stroke="#3a3a3a" stroke-width="1.1"/>
<text x="507" y="663.4" font-size="9.6" text-anchor="start" fill="#1c1c1c">40</text>
<text transform="translate(72.6 623.5) rotate(-90)" font-size="9.6" text-anchor="middle" fill="#1c1c1c">P<tspan font-size="6" dy="2">p</tspan><tspan dy="-2"> [kW]</tspan></text>
<text transform="translate(531.6 626) rotate(-90)" font-size="9.6" text-anchor="middle" fill="#1c1c1c">&#951; [%]</text>
<path d="M234.56 636.4C238.22 635.1 249.2 631.07 256.52 628.6C263.84 626.13 271.16 623.63 278.48 621.6C285.8 619.57 293.12 617.9 300.44 616.4C307.76 614.9 315.08 613.63 322.4 612.6C329.72 611.57 337.77 610.72 344.36 610.2C350.95 609.68 356.44 609.57 361.93 609.5C367.42 609.43 371.08 609.35 377.3 609.8C383.52 610.25 391.94 611.02 399.26 612.2C406.58 613.38 414.63 615.12 421.22 616.9C427.81 618.68 433.3 620.77 438.79 622.9C444.28 625.03 451.6 628.57 454.16 629.7" fill="none" stroke="#111" stroke-width="2.0"/>
<path d="M234.56 630.1C241.88 629.18 263.84 626.05 278.48 624.6C293.12 623.15 307.76 622.13 322.4 621.4C337.04 620.67 353.51 620.33 366.32 620.2C379.13 620.07 388.28 620.2 399.26 620.6C410.24 621 423.05 621.92 432.2 622.6C441.35 623.28 450.5 624.35 454.16 624.7" fill="none" stroke="#111" stroke-width="2.0"/>
<path d="M234.56 639.3C241.88 638.48 263.84 635.72 278.48 634.4C293.12 633.08 307.76 632.07 322.4 631.4C337.04 630.73 353.51 630.43 366.32 630.4C379.13 630.37 388.28 630.57 399.26 631.2C410.24 631.83 423.05 633.22 432.2 634.2C441.35 635.18 450.5 636.62 454.16 637.1" fill="none" stroke="#111" stroke-width="2.0"/>
<rect x="181" y="626.5" width="43.5" height="11.5" fill="#fff"/>
<text x="182.3" y="635.2" font-size="9.6" text-anchor="start" fill="#1c1c1c">kW/stage</text>
<rect x="263.5" y="607.5" width="10" height="10" fill="#fff"/>
<text x="268.5" y="615.8" font-size="9.6" text-anchor="middle" fill="#1c1c1c">&#951;</text>
<rect x="457" y="621.5" width="20" height="10.5" fill="#fff"/>
<text x="458.7" y="630.2" font-size="9.6" fill="#1c1c1c">P<tspan font-size="6" dy="2">2</tspan><tspan dy="-2" dx="2.5">1</tspan></text>
<rect x="457" y="633.5" width="32" height="11" fill="#fff"/>
<text x="460.9" y="642.7" font-size="9.6" fill="#1c1c1c">P<tspan font-size="6" dy="2">2</tspan><tspan dy="-2" dx="2">/1A</tspan></text>
<line x1="113.78" y1="674.5" x2="113.78" y2="728.1" stroke="#7c7c7c" stroke-width="0.85"/>
<line x1="124.76" y1="674.5" x2="124.76" y2="728.1" stroke="#7c7c7c" stroke-width="0.85"/>
<line x1="135.74" y1="674.5" x2="135.74" y2="728.1" stroke="#7c7c7c" stroke-width="0.85"/>
<line x1="157.7" y1="674.5" x2="157.7" y2="728.1" stroke="#7c7c7c" stroke-width="0.85"/>
<line x1="168.68" y1="674.5" x2="168.68" y2="728.1" stroke="#7c7c7c" stroke-width="0.85"/>
<line x1="179.66" y1="674.5" x2="179.66" y2="728.1" stroke="#7c7c7c" stroke-width="0.85"/>
<line x1="201.62" y1="674.5" x2="201.62" y2="728.1" stroke="#7c7c7c" stroke-width="0.85"/>
<line x1="212.6" y1="674.5" x2="212.6" y2="728.1" stroke="#7c7c7c" stroke-width="0.85"/>
<line x1="223.58" y1="674.5" x2="223.58" y2="728.1" stroke="#7c7c7c" stroke-width="0.85"/>
<line x1="245.54" y1="674.5" x2="245.54" y2="728.1" stroke="#7c7c7c" stroke-width="0.85"/>
<line x1="256.52" y1="674.5" x2="256.52" y2="728.1" stroke="#7c7c7c" stroke-width="0.85"/>
<line x1="267.5" y1="674.5" x2="267.5" y2="728.1" stroke="#7c7c7c" stroke-width="0.85"/>
<line x1="289.46" y1="674.5" x2="289.46" y2="728.1" stroke="#7c7c7c" stroke-width="0.85"/>
<line x1="300.44" y1="674.5" x2="300.44" y2="728.1" stroke="#7c7c7c" stroke-width="0.85"/>
<line x1="311.42" y1="674.5" x2="311.42" y2="728.1" stroke="#7c7c7c" stroke-width="0.85"/>
<line x1="333.38" y1="674.5" x2="333.38" y2="728.1" stroke="#7c7c7c" stroke-width="0.85"/>
<line x1="344.36" y1="674.5" x2="344.36" y2="728.1" stroke="#7c7c7c" stroke-width="0.85"/>
<line x1="355.34" y1="674.5" x2="355.34" y2="728.1" stroke="#7c7c7c" stroke-width="0.85"/>
<line x1="377.3" y1="674.5" x2="377.3" y2="728.1" stroke="#7c7c7c" stroke-width="0.85"/>
<line x1="388.28" y1="674.5" x2="388.28" y2="728.1" stroke="#7c7c7c" stroke-width="0.85"/>
<line x1="399.26" y1="674.5" x2="399.26" y2="728.1" stroke="#7c7c7c" stroke-width="0.85"/>
<line x1="421.22" y1="674.5" x2="421.22" y2="728.1" stroke="#7c7c7c" stroke-width="0.85"/>
<line x1="432.2" y1="674.5" x2="432.2" y2="728.1" stroke="#7c7c7c" stroke-width="0.85"/>
<line x1="443.18" y1="674.5" x2="443.18" y2="728.1" stroke="#7c7c7c" stroke-width="0.85"/>
<line x1="465.14" y1="674.5" x2="465.14" y2="728.1" stroke="#7c7c7c" stroke-width="0.85"/>
<line x1="476.12" y1="674.5" x2="476.12" y2="728.1" stroke="#7c7c7c" stroke-width="0.85"/>
<line x1="487.1" y1="674.5" x2="487.1" y2="728.1" stroke="#7c7c7c" stroke-width="0.85"/>
<line x1="102.8" y1="674.5" x2="102.8" y2="728.1" stroke="#2a2a2a" stroke-width="1.6"/>
<line x1="146.72" y1="674.5" x2="146.72" y2="728.1" stroke="#2c2c2c" stroke-width="0.95"/>
<line x1="190.64" y1="674.5" x2="190.64" y2="728.1" stroke="#484848" stroke-width="0.95"/>
<line x1="234.56" y1="674.5" x2="234.56" y2="728.1" stroke="#1c1c1c" stroke-width="0.95"/>
<line x1="278.48" y1="674.5" x2="278.48" y2="728.1" stroke="#484848" stroke-width="0.95"/>
<line x1="322.4" y1="674.5" x2="322.4" y2="728.1" stroke="#2c2c2c" stroke-width="0.95"/>
<line x1="366.32" y1="674.5" x2="366.32" y2="728.1" stroke="#1c1c1c" stroke-width="0.95"/>
<line x1="410.24" y1="674.5" x2="410.24" y2="728.1" stroke="#444" stroke-width="0.95"/>
<line x1="454.16" y1="674.5" x2="454.16" y2="728.1" stroke="#303030" stroke-width="0.95"/>
<line x1="498.08" y1="674.5" x2="498.08" y2="728.1" stroke="#333" stroke-width="0.95"/>
<line x1="102.8" y1="674.5" x2="498.08" y2="674.5" stroke="#2c2c2c" stroke-width="0.95"/>
<line x1="102.8" y1="692.36" x2="498.08" y2="692.36" stroke="#2c2c2c" stroke-width="0.95"/>
<line x1="102.8" y1="710.23" x2="498.08" y2="710.23" stroke="#2c2c2c" stroke-width="0.95"/>
<line x1="102.8" y1="728.1" x2="498.08" y2="728.1" stroke="#2c2c2c" stroke-width="0.95"/>
<line x1="102.8" y1="683.43" x2="498.08" y2="683.43" stroke="#5c5c5c" stroke-width="1"/>
<line x1="102.8" y1="701.3" x2="498.08" y2="701.3" stroke="#5c5c5c" stroke-width="1"/>
<line x1="102.8" y1="719.17" x2="498.08" y2="719.17" stroke="#5c5c5c" stroke-width="1"/>
<line x1="98.4" y1="674.5" x2="102.8" y2="674.5" stroke="#3a3a3a" stroke-width="1.1"/>
<text x="94" y="677.7" font-size="9.6" text-anchor="end" fill="#1c1c1c">12</text>
<line x1="98.4" y1="692.36" x2="102.8" y2="692.36" stroke="#3a3a3a" stroke-width="1.1"/>
<text x="94" y="695.56" font-size="9.6" text-anchor="end" fill="#1c1c1c">8</text>
<line x1="98.4" y1="710.23" x2="102.8" y2="710.23" stroke="#3a3a3a" stroke-width="1.1"/>
<text x="94" y="713.43" font-size="9.6" text-anchor="end" fill="#1c1c1c">4</text>
<line x1="98.4" y1="728.1" x2="102.8" y2="728.1" stroke="#3a3a3a" stroke-width="1.1"/>
<text x="94" y="731.3" font-size="9.6" text-anchor="end" fill="#1c1c1c">0</text>
<text transform="translate(72.9 692.7) rotate(-90)" font-size="9.6" text-anchor="middle" fill="#1c1c1c">NPSH [m]</text>
<line x1="498.08" y1="728.1" x2="501.88" y2="728.1" stroke="#3a3a3a" stroke-width="1.1"/>
<text x="507" y="731.3" font-size="9.6" text-anchor="start" fill="#1c1c1c">0</text>
<line x1="498.08" y1="714.48" x2="501.88" y2="714.48" stroke="#3a3a3a" stroke-width="1.1"/>
<text x="507" y="717.68" font-size="9.6" text-anchor="start" fill="#1c1c1c">10</text>
<line x1="498.08" y1="700.87" x2="501.88" y2="700.87" stroke="#3a3a3a" stroke-width="1.1"/>
<text x="507" y="704.07" font-size="9.6" text-anchor="start" fill="#1c1c1c">20</text>
<line x1="498.08" y1="687.25" x2="501.88" y2="687.25" stroke="#3a3a3a" stroke-width="1.1"/>
<text x="507" y="690.45" font-size="9.6" text-anchor="start" fill="#1c1c1c">30</text>
<text transform="translate(531.6 694) rotate(-90)" font-size="9.6" text-anchor="middle" fill="#1c1c1c">NPSH [ft]</text>
<path d="M234.56 714.6C241.88 714.08 263.84 712.82 278.48 711.5C293.12 710.18 307.76 708.53 322.4 706.7C337.04 704.87 351.68 703.08 366.32 700.5C380.96 697.92 395.6 694.6 410.24 691.2C424.88 687.8 446.84 681.95 454.16 680.1" fill="none" stroke="#111" stroke-width="2.0"/>
<line x1="102.8" y1="728.1" x2="102.8" y2="732.7" stroke="#3a3a3a" stroke-width="1.1"/>
<text x="102.8" y="746.2" font-size="9.6" text-anchor="middle" fill="#1c1c1c">0</text>
<line x1="146.72" y1="728.1" x2="146.72" y2="732.7" stroke="#3a3a3a" stroke-width="1.1"/>
<text x="146.72" y="746.2" font-size="9.6" text-anchor="middle" fill="#1c1c1c">20</text>
<line x1="190.64" y1="728.1" x2="190.64" y2="732.7" stroke="#3a3a3a" stroke-width="1.1"/>
<text x="190.64" y="746.2" font-size="9.6" text-anchor="middle" fill="#1c1c1c">40</text>
<line x1="234.56" y1="728.1" x2="234.56" y2="732.7" stroke="#3a3a3a" stroke-width="1.1"/>
<text x="234.56" y="746.2" font-size="9.6" text-anchor="middle" fill="#1c1c1c">60</text>
<line x1="278.48" y1="728.1" x2="278.48" y2="732.7" stroke="#3a3a3a" stroke-width="1.1"/>
<text x="278.48" y="746.2" font-size="9.6" text-anchor="middle" fill="#1c1c1c">80</text>
<line x1="322.4" y1="728.1" x2="322.4" y2="732.7" stroke="#3a3a3a" stroke-width="1.1"/>
<text x="322.4" y="746.2" font-size="9.6" text-anchor="middle" fill="#1c1c1c">100</text>
<line x1="366.32" y1="728.1" x2="366.32" y2="732.7" stroke="#3a3a3a" stroke-width="1.1"/>
<text x="366.32" y="746.2" font-size="9.6" text-anchor="middle" fill="#1c1c1c">120</text>
<line x1="410.24" y1="728.1" x2="410.24" y2="732.7" stroke="#3a3a3a" stroke-width="1.1"/>
<text x="410.24" y="746.2" font-size="9.6" text-anchor="middle" fill="#1c1c1c">140</text>
<line x1="454.16" y1="728.1" x2="454.16" y2="732.7" stroke="#3a3a3a" stroke-width="1.1"/>
<text x="454.16" y="746.2" font-size="9.6" text-anchor="middle" fill="#1c1c1c">160</text>
<line x1="498.08" y1="728.1" x2="498.08" y2="732.7" stroke="#3a3a3a" stroke-width="1.1"/>
<text x="508.9" y="745.9" font-size="9.6" text-anchor="end" fill="#1c1c1c">Q [m<tspan font-size="6" dy="-3.5">3</tspan><tspan dy="3.5">/h]</tspan></text>
<line x1="102.8" y1="755.6" x2="498.08" y2="755.6" stroke="#3a3a3a" stroke-width="1.1"/>
<line x1="102.8" y1="755.6" x2="102.8" y2="759.8" stroke="#3a3a3a" stroke-width="1.1"/>
<text x="102.8" y="772.8" font-size="9.6" text-anchor="middle" fill="#1c1c1c">0</text>
<line x1="115.98" y1="755.6" x2="115.98" y2="757.6" stroke="#777" stroke-width="0.9"/>
<line x1="129.15" y1="755.6" x2="129.15" y2="757.6" stroke="#777" stroke-width="0.9"/>
<line x1="142.33" y1="755.6" x2="142.33" y2="757.6" stroke="#777" stroke-width="0.9"/>
<line x1="155.5" y1="755.6" x2="155.5" y2="757.6" stroke="#777" stroke-width="0.9"/>
<line x1="168.68" y1="755.6" x2="168.68" y2="759.8" stroke="#3a3a3a" stroke-width="1.1"/>
<text x="168.68" y="772.8" font-size="9.6" text-anchor="middle" fill="#1c1c1c">500</text>
<line x1="181.86" y1="755.6" x2="181.86" y2="757.6" stroke="#777" stroke-width="0.9"/>
<line x1="195.03" y1="755.6" x2="195.03" y2="757.6" stroke="#777" stroke-width="0.9"/>
<line x1="208.21" y1="755.6" x2="208.21" y2="757.6" stroke="#777" stroke-width="0.9"/>
<line x1="221.38" y1="755.6" x2="221.38" y2="757.6" stroke="#777" stroke-width="0.9"/>
<line x1="234.56" y1="755.6" x2="234.56" y2="759.8" stroke="#3a3a3a" stroke-width="1.1"/>
<text x="234.56" y="772.8" font-size="9.6" text-anchor="middle" fill="#1c1c1c">1000</text>
<line x1="247.74" y1="755.6" x2="247.74" y2="757.6" stroke="#777" stroke-width="0.9"/>
<line x1="260.91" y1="755.6" x2="260.91" y2="757.6" stroke="#777" stroke-width="0.9"/>
<line x1="274.09" y1="755.6" x2="274.09" y2="757.6" stroke="#777" stroke-width="0.9"/>
<line x1="287.26" y1="755.6" x2="287.26" y2="757.6" stroke="#777" stroke-width="0.9"/>
<line x1="300.44" y1="755.6" x2="300.44" y2="759.8" stroke="#3a3a3a" stroke-width="1.1"/>
<text x="300.44" y="772.8" font-size="9.6" text-anchor="middle" fill="#1c1c1c">1500</text>
<line x1="313.62" y1="755.6" x2="313.62" y2="757.6" stroke="#777" stroke-width="0.9"/>
<line x1="326.79" y1="755.6" x2="326.79" y2="757.6" stroke="#777" stroke-width="0.9"/>
<line x1="339.97" y1="755.6" x2="339.97" y2="757.6" stroke="#777" stroke-width="0.9"/>
<line x1="353.14" y1="755.6" x2="353.14" y2="757.6" stroke="#777" stroke-width="0.9"/>
<line x1="366.32" y1="755.6" x2="366.32" y2="759.8" stroke="#3a3a3a" stroke-width="1.1"/>
<text x="366.32" y="772.8" font-size="9.6" text-anchor="middle" fill="#1c1c1c">2000</text>
<line x1="379.5" y1="755.6" x2="379.5" y2="757.6" stroke="#777" stroke-width="0.9"/>
<line x1="392.67" y1="755.6" x2="392.67" y2="757.6" stroke="#777" stroke-width="0.9"/>
<line x1="405.85" y1="755.6" x2="405.85" y2="757.6" stroke="#777" stroke-width="0.9"/>
<line x1="419.02" y1="755.6" x2="419.02" y2="757.6" stroke="#777" stroke-width="0.9"/>
<line x1="432.2" y1="755.6" x2="432.2" y2="759.8" stroke="#3a3a3a" stroke-width="1.1"/>
<text x="432.2" y="772.8" font-size="9.6" text-anchor="middle" fill="#1c1c1c">2500</text>
<line x1="445.38" y1="755.6" x2="445.38" y2="757.6" stroke="#777" stroke-width="0.9"/>
<line x1="458.55" y1="755.6" x2="458.55" y2="757.6" stroke="#777" stroke-width="0.9"/>
<line x1="471.73" y1="755.6" x2="471.73" y2="757.6" stroke="#777" stroke-width="0.9"/>
<line x1="484.9" y1="755.6" x2="484.9" y2="757.6" stroke="#777" stroke-width="0.9"/>
<line x1="498.08" y1="755.6" x2="498.08" y2="759.8" stroke="#3a3a3a" stroke-width="1.1"/>
<line x1="498.08" y1="755.6" x2="498.08" y2="759.8" stroke="#3a3a3a" stroke-width="1.1"/>
<text x="508.9" y="771.5" font-size="9.6" text-anchor="end" fill="#1c1c1c">Q [l/min]</text>
<text transform="translate(533.1 752.3) rotate(-90)" font-size="7.5" text-anchor="middle" fill="#1c1c1c">05939_B_CH</text>
</svg>
<div class="note n1">Le prestazioni dichiarate valgono per liquidi con densit&agrave; &rho; = 1.0 kg/dm<sup>3</sup></div>
<div class="note n2">ed una viscosit&agrave; cinematica &nu; = 1 mm<sup>2</sup>/sec.</div>
<div class="pg">167</div>
</body>
</html>
